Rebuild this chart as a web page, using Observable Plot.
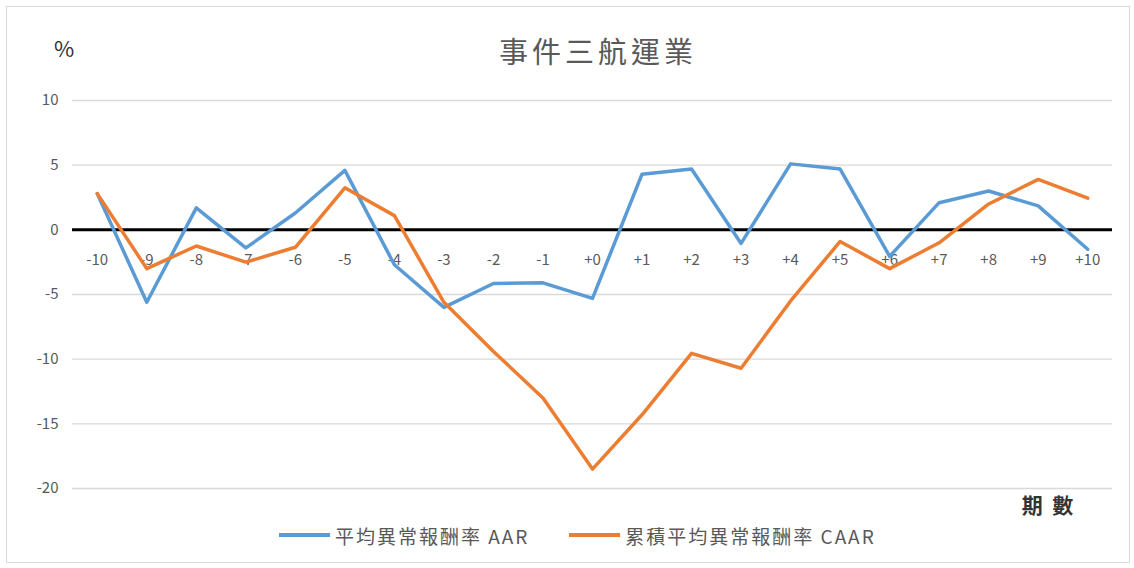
<!DOCTYPE html>
<html>
<head>
<meta charset="utf-8">
<script src="https://cdn.jsdelivr.net/npm/d3@7"></script>
<script src="https://cdn.jsdelivr.net/npm/@observablehq/plot@0.6"></script>
<style>
  html, body { margin: 0; padding: 0; background: #fff; }
  #wrap { position: relative; width: 1134px; height: 568px; overflow: hidden;
          font-family: "Noto Sans CJK TC", "Noto Sans", sans-serif; }
  #frame { position: absolute; left: 6px; top: 6px; width: 1124px; height: 557px;
           border: 1px solid #d9d9d9; box-sizing: border-box; pointer-events: none; }
  #header { position: relative; height: 80px; }
  #title { position: absolute; left: 0; width: 1134px; top: 30px; text-align: center;
           font-size: 29px; line-height: 40px; letter-spacing: 4px; color: #595959; padding-left: 62px; box-sizing: border-box; }
  #pct { position: absolute; left: 54px; top: 32px; font-size: 22px; line-height: 30px; color: #333; }
  #chart { position: relative; height: 440px; }
  #legend { position: relative; height: 30px; display: flex; justify-content: flex-start;
            align-items: center; padding-left: 279px; font-size: 19px; letter-spacing: 2px; color: #595959; }
  .item { display: flex; align-items: center; margin-right: 40px; }
  .sw { width: 51px; height: 4px; margin-right: 5px; }
</style>
</head>
<body>
<div id="wrap">
  <div id="header"><div id="pct">%</div><div id="title"></div></div>
  <div id="chart"></div>
  <div id="legend"></div>
  <div id="frame"></div>
</div>
<script>
const titleText = "事件三航運業";
const yUnit = "%";
const xName = "期  數";
const periods = ["-10","-9","-8","-7","-6","-5","-4","-3","-2","-1","+0","+1","+2","+3","+4","+5","+6","+7","+8","+9","+10"];
const aar  = [2.8, -5.6, 1.7, -1.4, 1.3, 4.6, -2.7, -6.0, -4.15, -4.1, -5.3, 4.3, 4.7, -1.05, 5.1, 4.7, -2.05, 2.1, 3.0, 1.85, -1.5];
const caar = [2.8, -3.0, -1.25, -2.5, -1.35, 3.25, 1.1, -5.6, -9.4, -13.0, -18.5, -14.3, -9.55, -10.7, -5.5, -0.9, -3.0, -1.0, 2.0, 3.9, 2.45];
const yTicks = [-20, -15, -10, -5, 0, 5, 10];
const seriesNames = ["平均異常報酬率 AAR", "累積平均異常報酬率 CAAR"];
const seriesColors = ["#5b9bd5", "#ed7d31"];

document.getElementById("title").textContent = titleText;
document.getElementById("pct").textContent = yUnit;

const rows = periods.map((p, i) => ({period: p, aar: aar[i], caar: caar[i]}));

const chart = Plot.plot({
  width: 1134,
  height: 440,
  marginTop: 20,
  marginBottom: 32,
  marginLeft: 72,
  marginRight: 22,
  style: {fontFamily: '"Noto Sans CJK TC", "Noto Sans", sans-serif', fontSize: "15px", color: "#595959", background: "transparent"},
  x: {type: "point", domain: periods, padding: 0.5, round: false, axis: null},
  y: {domain: [-20, 10], ticks: yTicks, tickSize: 0, tickPadding: 14, label: null, tickFormat: d => String(d)},
  marks: [
    Plot.ruleY(yTicks.filter(d => d !== 0), {stroke: "#d9d9d9", strokeWidth: 1.4}),
    Plot.ruleY([0], {stroke: "#000", strokeWidth: 3}),
    Plot.text(periods, {x: d => d, y: () => 0, dy: 30, fill: "#595959", fontSize: 15}),
    Plot.line(rows, {x: "period", y: "aar", stroke: seriesColors[0], strokeWidth: 3.5, strokeLinejoin: "round"}),
    Plot.line(rows, {x: "period", y: "caar", stroke: seriesColors[1], strokeWidth: 3.5, strokeLinejoin: "round"}),
    Plot.text([xName], {frameAnchor: "bottom-right", dx: -65, dy: 24, textAnchor: "middle", fontSize: 21, fontWeight: "bold", fill: "#333"})
  ]
});
document.getElementById("chart").appendChild(chart);

const legend = document.getElementById("legend");
seriesNames.forEach((name, i) => {
  const item = document.createElement("div");
  item.className = "item";
  const sw = document.createElement("div");
  sw.className = "sw";
  sw.style.background = seriesColors[i];
  const t = document.createElement("span");
  t.textContent = name;
  item.appendChild(sw);
  item.appendChild(t);
  legend.appendChild(item);
});
</script>
</body>
</html>
